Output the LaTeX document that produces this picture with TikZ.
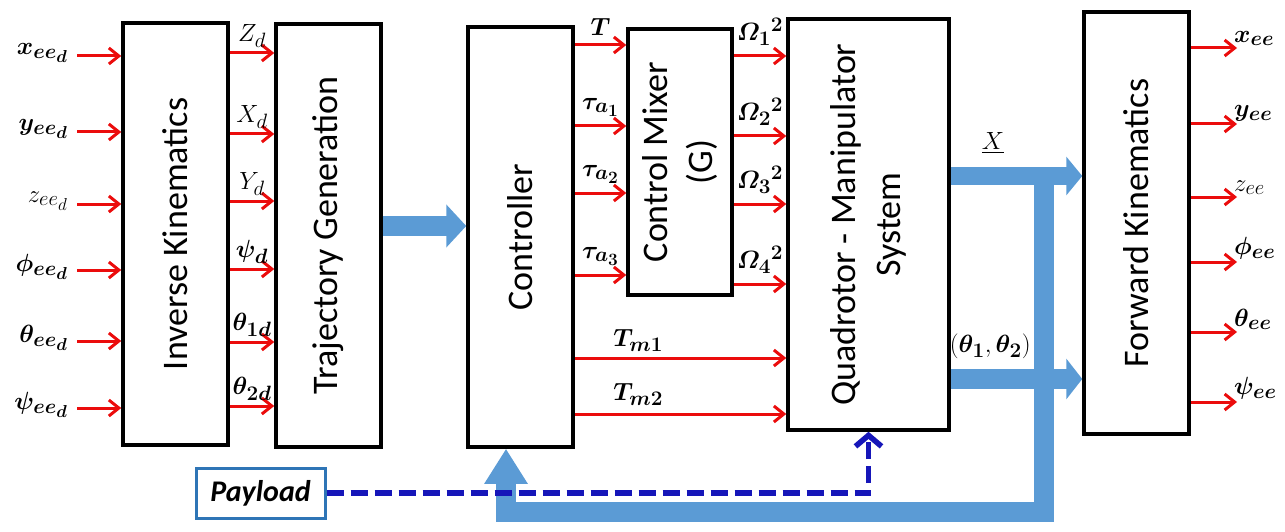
\documentclass[tikz,border=0pt]{standalone}
\usepackage{amsmath,amssymb}
\usepackage{fontspec}
\setmainfont{Carlito}
\usepackage{tikz}
\usetikzlibrary{positioning,calc}
\usetikzlibrary{arrows.meta}
\definecolor{SigRed}{RGB}{235,12,12}
\definecolor{BusBlue}{RGB}{91,155,213}
\definecolor{LoadBlue}{RGB}{22,22,185}
\definecolor{BoxBlue}{RGB}{46,117,182}
\tikzset{
  blk/.style={draw=black,line width=3.5pt,fill=white,inner sep=0pt},
  ttl/.style={rotate=90,font=\fontsize{36}{45}\selectfont,align=center,inner sep=0pt},
  sig/.style={draw=SigRed,line width=3pt,-{Straight Barb[length=10pt,width=16pt]}},
  lbl/.style={font=\fontsize{24.88}{28}\selectfont,inner sep=1pt},
  bus/.style={draw=BusBlue,line width=20pt},
  load/.style={draw=LoadBlue,line width=5.5pt,dash pattern=on 17pt off 7pt,
    -{Straight Barb[length=11pt,width=26pt]}},
}

\begin{document}
\begin{tikzpicture}[x=1pt,y=-1pt]
\useasboundingbox (0,0) rectangle (1285,532);
\node[blk,minimum width=105pt,minimum height=422pt] (ik) at (175.5,234) {};
\node[blk,minimum width=105pt,minimum height=423pt] (tg) at (328.5,235.5) {};
\node[blk,minimum width=105pt,minimum height=420pt] (ct) at (520.5,237) {};
\node[blk,minimum width=104pt,minimum height=266pt] (mx) at (680,162) {};
\node[blk,minimum width=161pt,minimum height=411pt] (qd) at (868.5,224.5) {};
\node[blk,minimum width=105pt,minimum height=422pt] (fk) at (1136.5,223) {};
\node[ttl] (ikt) at (ik) {Inverse Kinematics};
\node[ttl] (tgt) at (tg) {Trajectory Generation};
\node[ttl] (ctt) at (ct) {Controller};
\node[ttl] (mxt) at (mx) {Control Mixer\\(G)};
\node[ttl] (qdt) at (qd) {Quadrotor - Manipulator\\System};
\node[ttl] (fkt) at (fk) {Forward Kinematics};
\foreach \yy/\sym [count=\i] in {56/{\boldsymbol{x_{ee_d}}},132/{\boldsymbol{y_{ee_d}}},
  204/{z_{ee_d}},270/{\boldsymbol{\phi_{ee_d}}},341/{\boldsymbol{\theta_{ee_d}}},
  408/{\boldsymbol{\psi_{ee_d}}}} {
  \coordinate (in\i) at (77,\yy);
  \draw[sig] (in\i) -- (in\i -| ik.west);
  \node[lbl,left=8pt of in\i,yshift=3pt] (inl\i) {$\sym$};
}
\foreach \yy/\sym [count=\i] in {53/{Z_d},134/{X_d},201/{Y_d},269/{\boldsymbol{\psi_d}},
  342/{\boldsymbol{\theta_{1d}}},406/{\boldsymbol{\theta_{2d}}}} {
  \draw[sig] (ik.east |- 0,\yy) -- node[lbl,above=3pt] (tgl\i) {$\sym$} (tg.west |- 0,\yy);
}
\foreach \yy/\sym [count=\i] in {45/{\boldsymbol{T}},126/{\boldsymbol{\tau_{a_1}}},
  193/{\boldsymbol{\tau_{a_2}}},275/{\boldsymbol{\tau_{a_3}}}} {
  \draw[sig] (ct.east |- 0,\yy) -- node[lbl,above=7pt] (ctl\i) {$\sym$} (mx.west |- 0,\yy);
}
\foreach \yy/\k in {56/1,136/2,204/3,284/4} {
  \draw[sig] (mx.east |- 0,\yy) -- node[lbl,above=8pt] (mxl\k)
    {$\boldsymbol{{\varOmega_\k}^2}$} (qd.west |- 0,\yy);
}
\draw[sig] (ct.east |- 0,358) -- node[lbl,above=4pt,pos=0.3] (tm1) {$\boldsymbol{T_{m1}}$} (qd.west |- 0,358);
\draw[sig] (ct.east |- 0,414) -- node[lbl,above=6pt,pos=0.3] (tm2) {$\boldsymbol{T_{m2}}$} (qd.west |- 0,414);
\draw[bus,-{Triangle[length=20pt,width=42pt]}] (tg.east |- 0,226) -- (ct.west |- 0,226);
\draw[bus,line width=18pt,-{Triangle[length=16pt,width=38pt]}] (qd.east |- 0,176)
  -- node[lbl,above=12pt,pos=0.32] (xl) {$\underline{X}$} (fk.west |- 0,176);
\draw[bus,-{Triangle[length=16pt,width=40pt]}] (qd.east |- 0,379)
  -- node[lbl,above=9pt,pos=0.3] (thl) {$(\boldsymbol{\theta_1},\boldsymbol{\theta_2})$} (fk.west |- 0,379);
\coordinate (fb1) at (1044,180);
\coordinate (fb2) at (1044,512);
\coordinate (fb3) at (506,512);
\draw[bus,line join=miter,-{Triangle[length=35pt,width=41pt]}] (fb1) -- (fb2) -- (fb3) -- (ct.south -| fb3);
\node[draw=BoxBlue,line width=3pt,minimum width=129pt,minimum height=50pt,inner sep=0pt,
  font=\fontsize{30}{34}\selectfont\bfseries\itshape] (pl) at (260.5,493) {Payload};
\draw[load] (pl.east) -| (qd.south);
\foreach \yy/\sym [count=\i] in {48/{\boldsymbol{x_{ee}}},124/{\boldsymbol{y_{ee}}},
  197/{z_{ee}},262/{\boldsymbol{\phi_{ee}}},332/{\boldsymbol{\theta_{ee}}},
  402/{\boldsymbol{\psi_{ee}}}} {
  \coordinate (out\i) at (1237,\yy);
  \draw[sig] (fk.east |- out\i) -- (out\i);
  \node[lbl,above right=1pt and -4pt of out\i] (outl\i) {$\sym$};
}
\end{tikzpicture}
\end{document}
